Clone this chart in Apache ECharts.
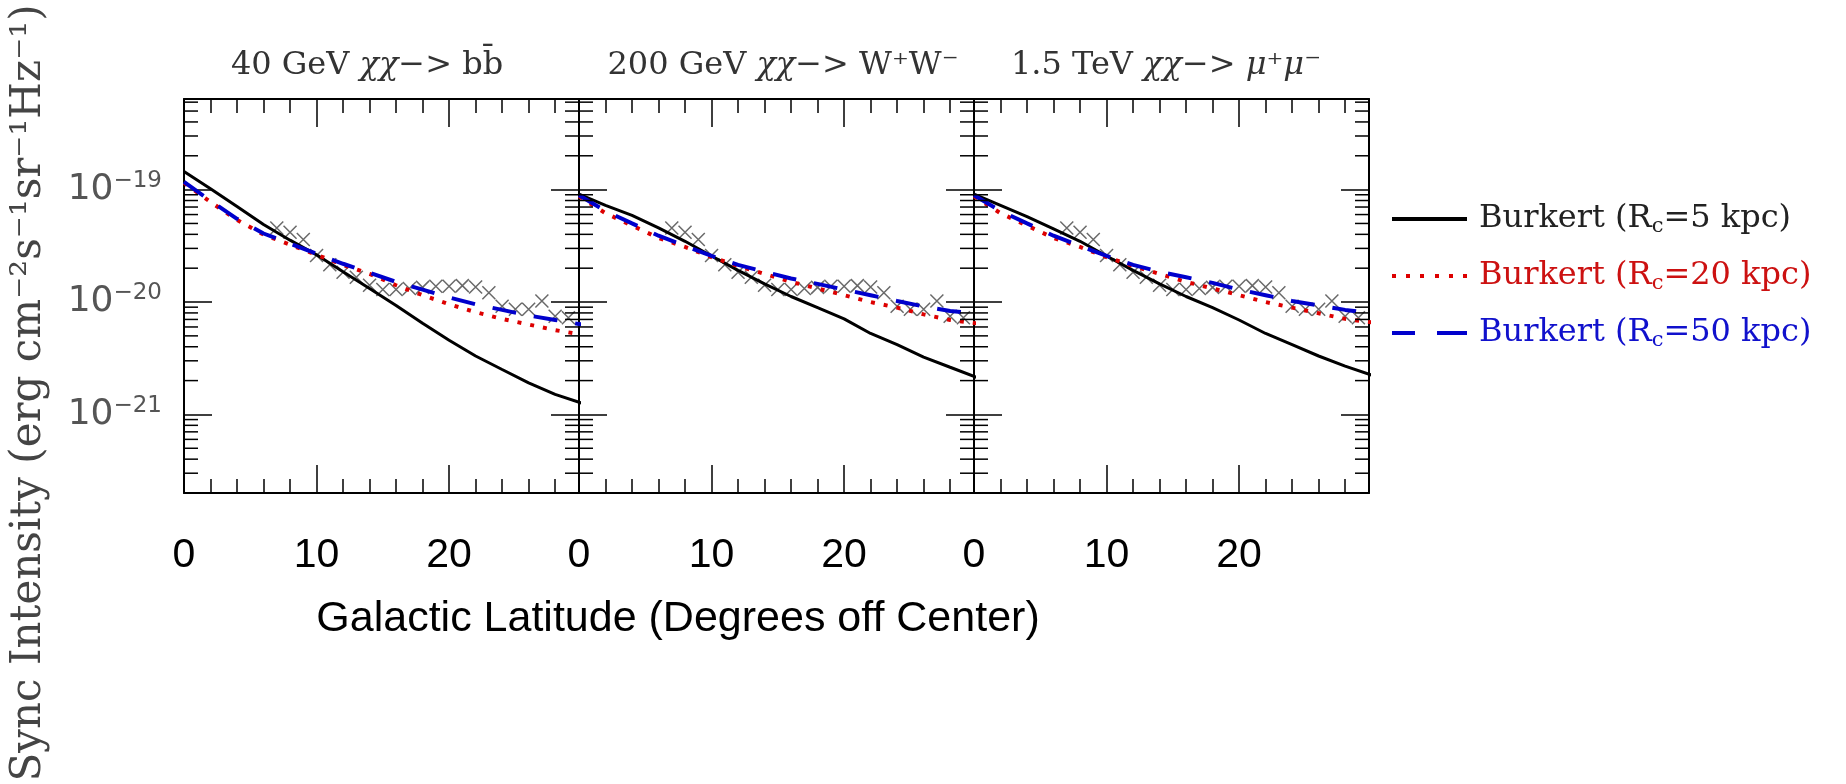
<!DOCTYPE html>
<html>
<head>
<meta charset="utf-8">
<script src="https://cdn.jsdelivr.net/npm/echarts@6/dist/echarts.min.js"></script>
<style>
html,body{margin:0;padding:0;background:#fff;}
#chart{width:1846px;height:784px;}
</style>
</head>
<body>
<div id="chart"></div>
<script>
// ---------------- data ----------------
const latitude = [0, 2, 4, 6, 8, 10, 12, 14, 16, 18, 20, 22, 24, 26, 28, 30];

// Panel 1: 40 GeV chi chi -> b bbar
const bb_rc5  = [1.45e-19, 1.02e-19, 7.08e-20, 4.90e-20, 3.55e-20, 2.63e-20, 1.86e-20, 1.32e-20, 9.33e-21, 6.46e-21, 4.57e-21, 3.31e-21, 2.51e-21, 1.91e-21, 1.51e-21, 1.26e-21];
const bb_rc20 = [1.15e-19, 7.76e-20, 5.37e-20, 3.98e-20, 3.24e-20, 2.63e-20, 2.14e-20, 1.78e-20, 1.41e-20, 1.15e-20, 9.55e-21, 8.13e-21, 7.08e-21, 6.31e-21, 5.62e-21, 5.13e-21];
const bb_rc50 = [1.17e-19, 7.94e-20, 5.50e-20, 4.07e-20, 3.31e-20, 2.69e-20, 2.19e-20, 1.82e-20, 1.51e-20, 1.29e-20, 1.10e-20, 9.55e-21, 8.51e-21, 7.59e-21, 6.92e-21, 6.31e-21];

// Panel 2: 200 GeV chi chi -> W+W-
const ww_rc5  = [9.12e-20, 7.24e-20, 5.89e-20, 4.57e-20, 3.47e-20, 2.57e-20, 1.91e-20, 1.45e-20, 1.12e-20, 8.91e-21, 7.08e-21, 5.25e-21, 4.17e-21, 3.24e-21, 2.63e-21, 2.14e-21];
const ww_rc20 = [8.71e-20, 6.17e-20, 4.79e-20, 3.72e-20, 3.09e-20, 2.51e-20, 2.09e-20, 1.78e-20, 1.51e-20, 1.32e-20, 1.15e-20, 1.00e-20, 8.91e-21, 7.76e-21, 6.92e-21, 6.46e-21];
const ww_rc50 = [8.91e-20, 6.46e-20, 5.01e-20, 3.89e-20, 3.16e-20, 2.57e-20, 2.14e-20, 1.86e-20, 1.62e-20, 1.45e-20, 1.29e-20, 1.15e-20, 1.02e-20, 9.12e-21, 8.32e-21, 7.94e-21];

// Panel 3: 1.5 TeV chi chi -> mu+ mu-
const mm_rc5  = [9.12e-20, 7.24e-20, 5.75e-20, 4.47e-20, 3.47e-20, 2.57e-20, 1.91e-20, 1.45e-20, 1.12e-20, 8.91e-21, 6.92e-21, 5.25e-21, 4.17e-21, 3.31e-21, 2.69e-21, 2.24e-21];
const mm_rc20 = [8.71e-20, 6.17e-20, 4.79e-20, 3.72e-20, 3.09e-20, 2.51e-20, 2.09e-20, 1.78e-20, 1.51e-20, 1.32e-20, 1.15e-20, 1.00e-20, 8.91e-21, 7.94e-21, 7.08e-21, 6.61e-21];
const mm_rc50 = [8.91e-20, 6.46e-20, 5.01e-20, 3.89e-20, 3.16e-20, 2.57e-20, 2.14e-20, 1.86e-20, 1.66e-20, 1.48e-20, 1.29e-20, 1.15e-20, 1.02e-20, 9.33e-21, 8.51e-21, 7.94e-21];

// Observed synchrotron intensity (crosses), same in every panel
const obsLatitude  = [7, 8, 9, 10, 11, 12, 13, 14, 15, 16, 17, 18, 19, 20, 21, 22, 23, 24, 25, 26, 27, 28, 29];
const obsIntensity = [4.56e-20, 4.18e-20, 3.60e-20, 2.59e-20, 2.15e-20, 1.84e-20, 1.66e-20, 1.41e-20, 1.29e-20, 1.29e-20, 1.32e-20, 1.35e-20, 1.38e-20, 1.38e-20, 1.40e-20, 1.36e-20, 1.21e-20, 9.18e-21, 8.61e-21, 8.61e-21, 1.02e-20, 7.48e-21, 7.24e-21];

// minor tick positions of the log axis
const yMinorTicks = [3e-22, 4e-22, 5e-22, 6e-22, 7e-22, 8e-22, 9e-22,
                     2e-21, 3e-21, 4e-21, 5e-21, 6e-21, 7e-21, 8e-21, 9e-21,
                     2e-20, 3e-20, 4e-20, 5e-20, 6e-20, 7e-20, 8e-20, 9e-20,
                     2e-19, 3e-19, 4e-19, 5e-19, 6e-19];

const seriesNames = ['Burkert (Rc=5 kpc)', 'Burkert (Rc=20 kpc)', 'Burkert (Rc=50 kpc)'];
const panelTitles = ['40 GeV χχ−> bb̄', '200 GeV χχ−> W⁺W⁻', '1.5 TeV χχ−> μ⁺μ⁻'];
const panelModels = [[bb_rc5, bb_rc20, bb_rc50], [ww_rc5, ww_rc20, ww_rc50], [mm_rc5, mm_rc20, mm_rc50]];
const xAxisName = 'Galactic Latitude (Degrees off Center)';
const yAxisName = 'Sync Intensity (erg cm⁻²s⁻¹sr⁻¹Hz⁻¹)';

// ---------------- layout / style ----------------
const X_MAX = 29.8, Y_MIN = 2e-22, Y_MAX = 6.4e-19;
const GRID_LEFT = [184, 579, 974], GRID_TOP = 99, GRID_W = 395, GRID_H = 394;
const lineColors = ['#000000', '#dd0000', '#0000cc'];
const lineWidths = [3, 4, 4];
const lineTypes = ['solid', [4, 9], [24, 18]];
const legendIcons = [
  'path://M0,0H75V4H0Z',
  'path://M0,0h4v4h-4z M14,0h4v4h-4z M28,0h4v4h-4z M43,0h4v4h-4z M57,0h4v4h-4z M71,0h4v4h-4z',
  'path://M0,0h23v4h-23z M45,0h30v4h-30z'
];
const legendTextColors = ['#222', '#cc1111', '#1111cc'];
const SANS = '"Liberation Sans", Arial, sans-serif';

const grids = [], xAxes = [], yAxes = [], series = [];
const frame = {show: true, onZero: false, lineStyle: {color: '#000', width: 2}};

for (let i = 0; i < 3; i++) {
  grids.push({left: GRID_LEFT[i], top: GRID_TOP, width: GRID_W, height: GRID_H, containLabel: false});
  ['bottom', 'top'].forEach(pos => {
    xAxes.push({
      type: 'value', gridIndex: i, position: pos, min: 0, max: X_MAX, interval: 10,
      axisLine: frame,
      axisTick: {show: true, inside: true, length: 28, lineStyle: {color: '#000', width: 1.5}},
      minorTick: {show: true, splitNumber: 5, length: 14, lineStyle: {color: '#000', width: 1.5}},
      splitLine: {show: false}, minorSplitLine: {show: false},
      axisLabel: pos === 'bottom'
        ? {show: true, showMaxLabel: false, margin: 42, fontFamily: SANS, fontSize: 41, color: '#000'}
        : {show: false}
    });
  });
  ['left', 'right'].forEach(pos => {
    yAxes.push({
      type: 'log', logBase: 10, gridIndex: i, position: pos, min: Y_MIN, max: Y_MAX,
      axisLine: frame,
      axisTick: {show: true, inside: true, length: 28, lineStyle: {color: '#000', width: 1.5}},
      splitLine: {show: false},
      axisLabel: (i === 0 && pos === 'left') ? {
        show: true, showMinLabel: false, showMaxLabel: false, margin: 22,
        formatter: v => {
          const l = Math.log10(v), e = Math.round(l);
          if (Math.abs(l - e) > 1e-6) return '';
          return '{b|10}{s|−' + (-e) + '}';
        },
        rich: {
          b: {fontFamily: '"DejaVu Sans"', fontSize: 36, color: '#555', lineHeight: 40},
          s: {fontFamily: '"DejaVu Sans"', fontSize: 23, color: '#555', verticalAlign: 'top', lineHeight: 24}
        }
      } : {show: false}
    });
  });

  // observed crosses
  series.push({
    type: 'scatter', name: 'Observed', xAxisIndex: 2 * i, yAxisIndex: 2 * i,
    data: obsLatitude.map((d, k) => [d, obsIntensity[k]]),
    symbol: 'path://M0,0L10,10M10,0L0,10', symbolSize: 13,
    itemStyle: {color: 'none', borderColor: '#444', borderWidth: 1.5},
    silent: true, z: 2
  });
  // model curves
  for (let m = 0; m < 3; m++) {
    series.push({
      type: 'line', name: seriesNames[m], xAxisIndex: 2 * i, yAxisIndex: 2 * i,
      data: latitude.map((d, k) => [d, panelModels[i][m][k]]),
      showSymbol: false, symbol: 'none', clip: true, silent: true,
      lineStyle: {color: lineColors[m], width: lineWidths[m], type: lineTypes[m]},
      itemStyle: {color: lineColors[m]},
      z: 3 + m
    });
  }
  // minor ticks of the log axis (left and right frames)
  series.push({
    type: 'custom', name: 'minorTicks', xAxisIndex: 2 * i, yAxisIndex: 2 * i, silent: true,
    data: yMinorTicks.map(v => [0, v]),
    renderItem: (params, api) => {
      const v = api.value(1);
      const p = api.coord([0, v]);
      const q = api.coord([X_MAX, v]);
      const st = {stroke: '#000', lineWidth: 1.5};
      return {type: 'group', children: [
        {type: 'line', shape: {x1: p[0], y1: p[1], x2: p[0] + 14, y2: p[1]}, style: st},
        {type: 'line', shape: {x1: q[0] - 14, y1: q[1], x2: q[0], y2: q[1]}, style: st}
      ]};
    },
    z: 6
  });
}

const graphics = [];
const titleCenters = [367, 783, 1166];
panelTitles.forEach((t, i) => {
  graphics.push({
    type: 'text', x: titleCenters[i], y: 66,
    style: {
      text: t.replace('χχ', '{i|χχ}').replace(/μ/g, '{i|μ}'),
      fill: '#333', fontFamily: 'DejaVu Serif', fontSize: 32,
      align: 'center', verticalAlign: 'middle',
      rich: {i: {fontFamily: 'DejaVu Serif', fontStyle: 'italic', fontSize: 32, fill: '#333'}}
    }
  });
});
graphics.push({
  type: 'text', x: 678, y: 619,
  style: {text: xAxisName, fill: '#000', fontFamily: 'Liberation Sans', fontSize: 43,
          align: 'center', verticalAlign: 'middle'}
});
graphics.push({
  type: 'text', x: 29, y: 393, rotation: Math.PI / 2,
  style: {text: yAxisName, fill: '#444', fontFamily: 'DejaVu Serif', fontSize: 42,
          align: 'center', verticalAlign: 'middle'}
});

const chart = echarts.init(document.getElementById('chart'), null, {renderer: 'canvas'});
chart.setOption({
  animation: false,
  backgroundColor: '#fff',
  grid: grids,
  xAxis: xAxes,
  yAxis: yAxes,
  legend: {
    orient: 'vertical', left: 1387, top: 196, itemWidth: 75, itemHeight: 14, itemGap: 21,
    selectedMode: false, symbolKeepAspect: true,
    data: seriesNames.map((n, m) => ({
      name: n,
      icon: legendIcons[m],
      textStyle: {color: legendTextColors[m]},
      itemStyle: {color: lineColors[m], opacity: 1, borderWidth: 0}
    })),
    formatter: n => n.replace('Rc', 'R{sub|c}'),
    textStyle: {
      fontFamily: 'DejaVu Serif', fontSize: 32, lineHeight: 36, padding: [0, 0, 0, 7],
      rich: {sub: {fontFamily: 'DejaVu Serif', fontSize: 21, lineHeight: 16, verticalAlign: 'bottom'}}
    }
  },
  graphic: graphics,
  series: series
});
</script>
</body>
</html>
